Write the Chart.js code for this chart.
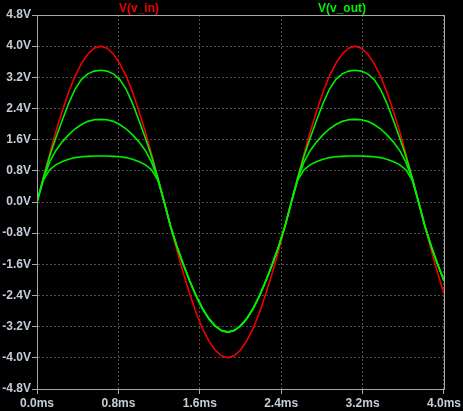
<!DOCTYPE html>
<html>
<head>
<meta charset="utf-8">
<script src="https://cdn.jsdelivr.net/npm/chart.js@4.4.1/dist/chart.umd.min.js"></script>
<style>
    html, body { margin: 0; padding: 0; background: #000; overflow: hidden; }
    canvas { display: block; }
</style>
</head>
<body>
<canvas id="scope" width="463" height="411"></canvas>
<script>
// time in ms, one sample every 1/16 ms
const TIME_MS = [
    0, 0.0625, 0.125, 0.1875, 0.25, 0.3125, 0.375, 0.4375, 0.5, 0.5625, 0.625,
    0.6875, 0.75, 0.8125, 0.875, 0.9375, 1.0, 1.0625, 1.125, 1.1875, 1.25,
    1.3125, 1.375, 1.4375, 1.5, 1.5625, 1.625, 1.6875, 1.75, 1.8125, 1.875,
    1.9375, 2.0, 2.0625, 2.125, 2.1875, 2.25, 2.3125, 2.375, 2.4375, 2.5,
    2.5625, 2.625, 2.6875, 2.75, 2.8125, 2.875, 2.9375, 3.0, 3.0625, 3.125,
    3.1875, 3.25, 3.3125, 3.375, 3.4375, 3.5, 3.5625, 3.625, 3.6875, 3.75,
    3.8125, 3.875, 3.9375, 4.0
];

const V_IN = [
    0, 0.63, 1.24, 1.82, 2.35, 2.83, 3.24, 3.56, 3.80, 3.95, 4.00,
    3.95, 3.80, 3.56, 3.24, 2.83, 2.35, 1.82, 1.24, 0.63, 0,
    -0.63, -1.24, -1.82, -2.35, -2.83, -3.24, -3.56, -3.80, -3.95, -4.00,
    -3.95, -3.80, -3.56, -3.24, -2.83, -2.35, -1.82, -1.24, -0.63, 0,
    0.63, 1.24, 1.82, 2.35, 2.83, 3.24, 3.56, 3.80, 3.95, 4.00,
    3.95, 3.80, 3.56, 3.24, 2.83, 2.35, 1.82, 1.24, 0.63, 0,
    -0.63, -1.24, -1.82, -2.35
];

const V_OUT_HIGH = [
    0, 0.62, 1.18, 1.66, 2.11, 2.54, 2.90, 3.15, 3.29, 3.36, 3.38,
    3.36, 3.29, 3.15, 2.90, 2.54, 2.11, 1.66, 1.18, 0.62, 0,
    -0.62, -1.14, -1.60, -2.02, -2.40, -2.73, -2.99, -3.18, -3.30, -3.34,
    -3.30, -3.18, -2.99, -2.73, -2.40, -2.02, -1.60, -1.14, -0.62, 0,
    0.62, 1.18, 1.66, 2.11, 2.54, 2.90, 3.15, 3.29, 3.36, 3.38,
    3.36, 3.29, 3.15, 2.90, 2.54, 2.11, 1.66, 1.18, 0.62, 0,
    -0.62, -1.14, -1.60, -2.02
];

const V_OUT_MID = [
    0, 0.60, 1.03, 1.33, 1.55, 1.73, 1.88, 1.99, 2.07, 2.11, 2.12,
    2.11, 2.07, 1.99, 1.88, 1.73, 1.55, 1.33, 1.03, 0.60, 0,
    -0.62, -1.14, -1.60, -2.02, -2.40, -2.73, -2.99, -3.18, -3.30, -3.34,
    -3.30, -3.18, -2.99, -2.73, -2.40, -2.02, -1.60, -1.14, -0.62, 0,
    0.60, 1.03, 1.33, 1.55, 1.73, 1.88, 1.99, 2.07, 2.11, 2.12,
    2.11, 2.07, 1.99, 1.88, 1.73, 1.55, 1.33, 1.03, 0.60, 0,
    -0.62, -1.14, -1.60, -2.02
];

const V_OUT_LOW = [
    0, 0.56, 0.83, 0.96, 1.04, 1.10, 1.14, 1.16, 1.17, 1.18, 1.18,
    1.18, 1.17, 1.16, 1.14, 1.10, 1.04, 0.96, 0.83, 0.56, 0,
    -0.62, -1.14, -1.60, -2.02, -2.40, -2.73, -2.99, -3.18, -3.30, -3.34,
    -3.30, -3.18, -2.99, -2.73, -2.40, -2.02, -1.60, -1.14, -0.62, 0,
    0.56, 0.83, 0.96, 1.04, 1.10, 1.14, 1.16, 1.17, 1.18, 1.18,
    1.18, 1.17, 1.16, 1.14, 1.10, 1.04, 0.96, 0.83, 0.56, 0,
    -0.62, -1.14, -1.60, -2.02
];

const X_TICKS = [0, 0.8, 1.6, 2.4, 3.2, 4.0];
const Y_TICKS = [-4.8, -4.0, -3.2, -2.4, -1.6, -0.8, 0, 0.8, 1.6, 2.4, 3.2, 4.0, 4.8];

const TRACE_NAMES = ['V(v_in)', 'V(v_out)'];

const RED = '#f00000';
const GREEN = '#00f000';
const LABEL_COLOR = '#c4ccd8';
const FRAME_COLOR = '#a8a8a8';
const GRID_COLOR = '#4e4e4e';
const FONT = { family: 'Liberation Sans, Arial, sans-serif', size: 12, weight: 'bold' };

const toPoints = (values) => values.map((v, i) => ({ x: TIME_MS[i], y: v }));

const trace = (values, color, order) => ({
    data: toPoints(values),
    borderColor: color,
    borderWidth: 1.6,
    pointRadius: 0,
    tension: 0,
    fill: false,
    order: order
});

const scopePlugin = {
    id: 'scope',
    afterDraw: (chart) => {
        const { ctx, chartArea } = chart;
        ctx.save();
        ctx.strokeStyle = FRAME_COLOR;
        ctx.lineWidth = 1;
        ctx.strokeRect(
            Math.round(chartArea.left) + 0.5,
            Math.round(chartArea.top) + 0.5,
            Math.round(chartArea.right - chartArea.left),
            Math.round(chartArea.bottom - chartArea.top)
        );
        ctx.font = `bold 12px ${FONT.family}`;
        ctx.textAlign = 'center';
        ctx.textBaseline = 'middle';
        ctx.fillStyle = RED;
        ctx.fillText(TRACE_NAMES[0], 139, 9);
        ctx.fillStyle = GREEN;
        ctx.fillText(TRACE_NAMES[1], 342, 9);
        ctx.restore();
    }
};

new Chart(document.getElementById('scope'), {
    type: 'line',
    data: {
        datasets: [
            trace(V_IN, RED, 1),
            trace(V_OUT_HIGH, GREEN, 0),
            trace(V_OUT_MID, GREEN, 0),
            trace(V_OUT_LOW, GREEN, 0)
        ]
    },
    options: {
        responsive: false,
        animation: false,
        layout: { padding: { top: 15, right: 18, left: 0, bottom: 0 } },
        plugins: { legend: { display: false }, tooltip: { enabled: false } },
        scales: {
            x: {
                type: 'linear',
                min: 0,
                max: 4,
                afterBuildTicks: (scale) => { scale.ticks = X_TICKS.map((v) => ({ value: v })); },
                afterFit: (scale) => { scale.height = 22; },
                ticks: {
                    color: LABEL_COLOR,
                    font: FONT,
                    padding: 2,
                    maxRotation: 0,
                    autoSkip: false,
                    callback: (v) => `${Number(v).toFixed(1)}ms`
                },
                grid: { color: GRID_COLOR, tickColor: FRAME_COLOR, tickLength: 5, lineWidth: 1 },
                border: { display: true, color: FRAME_COLOR, dash: [2, 2] }
            },
            y: {
                min: -4.8,
                max: 4.8,
                afterBuildTicks: (scale) => { scale.ticks = Y_TICKS.map((v) => ({ value: v })); },
                afterFit: (scale) => { scale.width = 37; },
                ticks: {
                    color: LABEL_COLOR,
                    font: FONT,
                    padding: 1,
                    autoSkip: false,
                    callback: (v) => `${Number(v).toFixed(1)}V`
                },
                grid: { color: GRID_COLOR, tickColor: FRAME_COLOR, tickLength: 5, lineWidth: 1 },
                border: { display: true, color: FRAME_COLOR, dash: [2, 2] }
            }
        }
    },
    plugins: [scopePlugin]
});
</script>
</body>
</html>
